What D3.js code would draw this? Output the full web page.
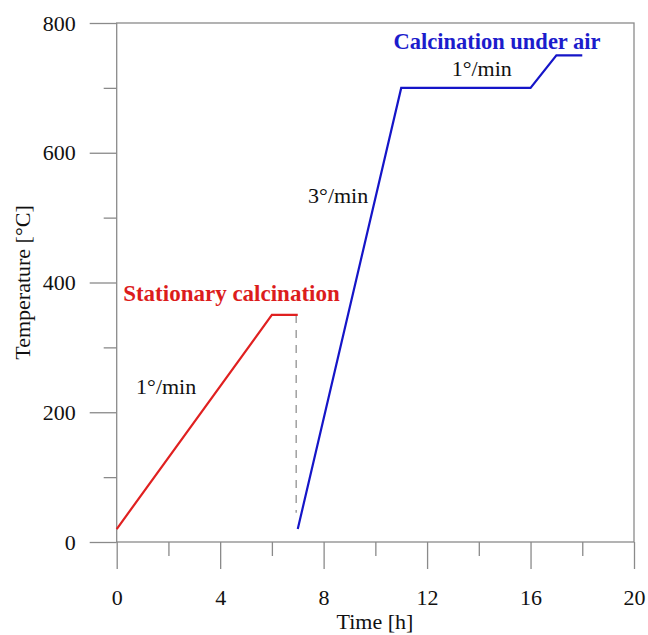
<!DOCTYPE html>
<html><head><meta charset="utf-8">
<script src="https://cdn.jsdelivr.net/npm/d3@7"></script>
<style>
body{margin:0;background:#fff;}
svg{display:block;}
text{font-family:"Liberation Serif","Times New Roman",serif;}
</style></head>
<body>
<svg id="c" width="648" height="635"></svg>
<script>
const xTicks = [0, 4, 8, 12, 16, 20];
const xMinor = [2, 6, 10, 14, 18];
const yTicks = [0, 200, 400, 600, 800];
const yMinor = [100, 300, 500, 700];

const stationaryTime = [0, 6, 7];
const stationaryTemp = [20, 350, 350];
const airTime = [7, 11, 16, 17, 18];
const airTemp = [20, 700, 700, 750, 750];
const dashTime = [6.94, 6.94];
const dashTemp = [350, 45];

const annotations = [
  {text: "Stationary calcination", t: 0.25, T: 372, cls: "red", size: 23},
  {text: "Calcination under air", t: 10.7, T: 760, cls: "blue", size: 22.5},
  {text: "1°/min", t: 0.75, T: 228, cls: "plain", size: 22},
  {text: "3°/min", t: 7.4, T: 522, cls: "plain", size: 22},
  {text: "1°/min", t: 12.95, T: 719, cls: "plain", size: 22}
];

const svg = d3.select("#c");
const x = d3.scaleLinear().domain([0, 20]).range([116.7, 634]);
const y = d3.scaleLinear().domain([0, 800]).range([542, 23]);
const axisColor = "#8a8a8a";

// frame
svg.append("rect")
  .attr("x", x(0)).attr("y", y(800))
  .attr("width", x(20) - x(0)).attr("height", y(0) - y(800))
  .attr("fill", "none").attr("stroke", axisColor).attr("stroke-width", 1.3);

function styleAxis(g){
  g.select(".domain").remove();
  g.selectAll("line").attr("stroke", axisColor).attr("stroke-width", 1.3);
  g.selectAll("text").attr("fill", "#111").style("font-size", "22px")
    .style("font-family", '"Liberation Serif","Times New Roman",serif');
}

svg.append("g").attr("transform", `translate(${x(0)},0)`)
  .call(d3.axisLeft(y).tickValues(yTicks).tickSize(27).tickPadding(14).tickFormat(d3.format("d")))
  .call(styleAxis);
svg.append("g").attr("transform", `translate(${x(0)},0)`)
  .call(d3.axisLeft(y).tickValues(yMinor).tickSize(13).tickFormat(""))
  .call(styleAxis);
svg.append("g").attr("transform", `translate(0,${y(0)})`)
  .call(d3.axisBottom(x).tickValues(xTicks).tickSize(27).tickPadding(20).tickFormat(d3.format("d")))
  .call(styleAxis);
svg.append("g").attr("transform", `translate(0,${y(0)})`)
  .call(d3.axisBottom(x).tickValues(xMinor).tickSize(14).tickFormat(""))
  .call(styleAxis);

// axis titles
svg.append("text").attr("x", 375).attr("y", 629).attr("text-anchor", "middle")
  .style("font-size", "22px").attr("fill", "#111").text("Time [h]");
svg.append("text").attr("transform", `translate(30,${(y(0)+y(800))/2}) rotate(-90)`)
  .attr("text-anchor", "middle").style("font-size", "22px").attr("fill", "#111")
  .text("Temperature [°C]");

const line = d3.line().x(d => x(d[0])).y(d => y(d[1]));

svg.append("path").datum(dashTime.map((t, i) => [t, dashTemp[i]]))
  .attr("d", line).attr("fill", "none").attr("stroke", "#a0a0a0")
  .attr("stroke-width", 1.5).attr("stroke-dasharray", "8,7");

svg.append("path").datum(stationaryTime.map((t, i) => [t, stationaryTemp[i]]))
  .attr("d", line).attr("fill", "none").attr("stroke", "#e02020").attr("stroke-width", 2.2);

svg.append("path").datum(airTime.map((t, i) => [t, airTemp[i]]))
  .attr("d", line).attr("fill", "none").attr("stroke", "#1515c8").attr("stroke-width", 2.2);

svg.selectAll("text.ann").data(annotations).enter().append("text")
  .attr("class", "ann")
  .attr("x", d => x(d.t)).attr("y", d => y(d.T))
  .style("font-size", d => d.size + "px")
  .style("font-weight", d => d.cls === "plain" ? "normal" : "bold")
  .attr("fill", d => d.cls === "red" ? "#dc1c1c" : d.cls === "blue" ? "#1c1ccc" : "#111")
  .text(d => d.text);
</script>
</body></html>
